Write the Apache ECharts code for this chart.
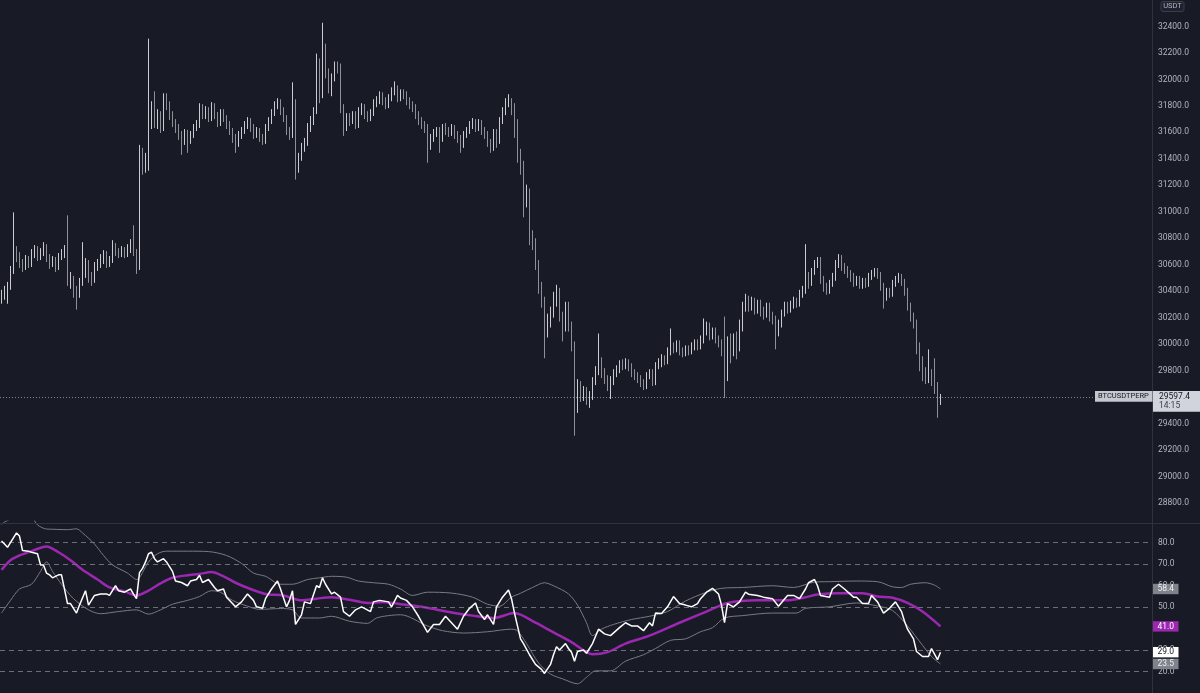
<!DOCTYPE html>
<html><head><meta charset="utf-8">
<script src="https://cdn.jsdelivr.net/npm/echarts@6/dist/echarts.min.js"></script>
<style>html,body{margin:0;padding:0;background:#181b26;overflow:hidden}#c{width:1200px;height:693px}</style>
</head><body><div id="c"></div><script>
// ---- data (BTCUSDTPERP) ----
const symbolName = 'BTCUSDTPERP';
const quoteUnit = 'USDT';
const lastPrice = 29597.4;
const lastTime = '14:15';
const slotCount = 384; // candle slots on the time axis (right part empty)

const opens = [30335,
30358,30395,30433,30560,30695,30658,30605,30583,30635,30605,
30680,30710,30658,30695,30733,30658,30605,30635,30583,30658,
30680,30710,30470,30485,30395,30380,30470,30530,30605,30508,
30485,30583,30605,30635,30680,30605,30635,30733,30695,30680,
30710,30680,30710,30755,30695,30583,31445,31333,31385,31670,
31745,31670,31730,31633,31858,31805,31730,31670,31633,31580,
31535,31595,31535,31580,31633,31655,31783,31730,31760,31708,
31798,31730,31670,31745,31708,31655,31610,31558,31520,31580,
31610,31655,31685,31633,31580,31610,31558,31535,31633,31685,
31745,31805,31820,31760,31708,31610,31580,31820,31370,31408,
31483,31520,31633,31685,31760,32083,31895,32233,32045,31933,
32008,32105,32083,31783,31633,31708,31685,31730,31655,31760,
31783,31730,31708,31745,31820,31835,31880,31835,31805,31858,
31910,31933,31858,31895,31880,31835,31805,31783,31730,31685,
31655,31633,31520,31558,31595,31610,31558,31633,31610,31595,
31625,31580,31550,31505,31580,31610,31655,31670,31633,31670,
31610,31580,31520,31483,31595,31535,31685,31760,31820,31835,
31760,31670,31445,31333,31070,31145,30808,30770,30605,30433,
30320,30095,30170,30230,30320,30395,30208,30133,30283,30133,
29983,29533,29683,29608,29645,29570,29608,29720,29795,29870,
29780,29735,29683,29720,29780,29810,29848,29833,29855,29825,
29780,29758,29735,29705,29683,29758,29780,29720,29833,29855,
29885,29870,29945,29983,29960,29998,29945,29930,29960,29945,
29983,30005,29983,30035,30095,30133,30058,30095,30035,30005,
29945,29758,30020,29945,30035,29983,30133,30283,30335,30283,
30320,30260,30305,30245,30230,30283,30208,30185,30095,30155,
30230,30283,30260,30298,30320,30305,30380,30410,30508,30470,
30545,30605,30635,30485,30433,30410,30455,30508,30605,30658,
30583,30560,30530,30508,30470,30485,30448,30470,30455,30508,
30530,30545,30523,30433,30358,30395,30380,30455,30485,30508,
30470,30395,30283,30208,30155,29983,29870,29780,29735,29780,
29720,29683,29555];

const closes = [
30358,30395,30433,30560,30695,30658,30605,30583,30635,30605,
30680,30710,30658,30695,30733,30658,30605,30635,30583,30658,
30680,30710,30470,30485,30395,30380,30470,30530,30605,30508,
30485,30583,30605,30635,30680,30605,30635,30733,30695,30680,
30710,30680,30710,30755,30695,30583,31445,31333,31385,31670,
31745,31670,31730,31633,31858,31805,31730,31670,31633,31580,
31535,31595,31535,31580,31633,31655,31783,31730,31760,31708,
31798,31730,31670,31745,31708,31655,31610,31558,31520,31580,
31610,31655,31685,31633,31580,31610,31558,31535,31633,31685,
31745,31805,31820,31760,31708,31610,31580,31820,31370,31408,
31483,31520,31633,31685,31760,32083,31895,32233,32045,31933,
32008,32105,32083,31783,31633,31708,31685,31730,31655,31760,
31783,31730,31708,31745,31820,31835,31880,31835,31805,31858,
31910,31933,31858,31895,31880,31835,31805,31783,31730,31685,
31655,31633,31520,31558,31595,31610,31558,31633,31610,31595,
31625,31580,31550,31505,31580,31610,31655,31670,31633,31670,
31610,31580,31520,31483,31595,31535,31685,31760,31820,31835,
31760,31670,31445,31333,31070,31145,30808,30770,30605,30433,
30320,30095,30170,30230,30320,30395,30208,30133,30283,30133,
29983,29533,29683,29608,29645,29570,29608,29720,29795,29870,
29780,29735,29683,29720,29780,29810,29848,29833,29855,29825,
29780,29758,29735,29705,29683,29758,29780,29720,29833,29855,
29885,29870,29945,29983,29960,29998,29945,29930,29960,29945,
29983,30005,29983,30035,30095,30133,30058,30095,30035,30005,
29945,29758,30020,29945,30035,29983,30133,30283,30335,30283,
30320,30260,30305,30245,30230,30283,30208,30185,30095,30155,
30230,30283,30260,30298,30320,30305,30380,30410,30508,30470,
30545,30605,30635,30485,30433,30410,30455,30508,30605,30658,
30583,30560,30530,30508,30470,30485,30448,30470,30455,30508,
30530,30545,30523,30433,30358,30395,30380,30455,30485,30508,
30470,30395,30283,30208,30155,29983,29870,29780,29735,29780,
29720,29683,29555,29597.4];

const highs = [
30410,30440,30470,30590,30995,30740,30695,30643,30673,30665,
30718,30748,30740,30725,30770,30755,30680,30665,30658,30688,
30718,30748,30973,30545,30515,30440,30500,30770,30650,30635,
30545,30620,30643,30680,30710,30703,30665,30785,30763,30725,
30740,30733,30755,30793,30898,30718,31505,31483,31445,32308,
31835,31910,31775,31760,31895,31895,31835,31760,31700,31663,
31610,31625,31618,31610,31663,31693,31820,31813,31798,31790,
31828,31820,31753,31775,31775,31730,31685,31633,31588,31610,
31640,31685,31715,31708,31663,31640,31633,31588,31663,31715,
31775,31835,31858,31850,31790,31730,31640,31978,31850,31445,
31520,31558,31670,31723,31790,32195,32158,32428,32270,32083,
32045,32135,32135,32120,31813,31745,31745,31760,31760,31790,
31820,31813,31760,31775,31850,31873,31910,31903,31865,31888,
31940,31985,31955,31925,31925,31910,31865,31835,31813,31760,
31715,31685,31663,31588,31625,31640,31640,31663,31670,31640,
31663,31655,31610,31580,31610,31640,31685,31708,31700,31700,
31693,31640,31610,31550,31625,31625,31715,31790,31858,31888,
31858,31820,31700,31475,31385,31205,31175,30860,30800,30635,
30470,30358,30230,30283,30395,30448,30425,30245,30320,30320,
30170,30020,29735,29720,29683,29675,29645,29750,29833,30080,
29900,29818,29765,29758,29810,29840,29878,29885,29893,29885,
29855,29810,29788,29765,29735,29788,29810,29810,29863,29893,
29923,29915,29975,30118,30013,30028,30028,29975,29990,29990,
30013,30035,30035,30065,30193,30170,30163,30125,30125,30065,
30035,30208,30058,30080,30080,30095,30185,30320,30380,30365,
30358,30350,30335,30335,30283,30313,30313,30245,30215,30185,
30260,30320,30320,30328,30358,30350,30410,30440,30755,30545,
30575,30635,30658,30658,30515,30463,30485,30538,30635,30680,
30673,30613,30590,30560,30538,30515,30515,30500,30500,30538,
30560,30575,30575,30545,30463,30425,30425,30485,30515,30538,
30530,30493,30425,30313,30238,30185,30013,29908,29825,29960,
29810,29893,29713,29623];

const lows = [
30305,30335,30305,30410,30530,30620,30575,30545,30560,30575,
30583,30650,30628,30635,30665,30620,30568,30583,30545,30560,
30635,30650,30440,30418,30350,30260,30350,30440,30500,30463,
30440,30463,30553,30575,30605,30575,30583,30613,30665,30650,
30658,30650,30658,30688,30665,30530,30560,31280,31295,31310,
31625,31633,31625,31595,31610,31768,31693,31640,31595,31543,
31430,31505,31445,31513,31558,31610,31633,31700,31700,31678,
31685,31700,31640,31648,31678,31625,31580,31520,31445,31490,
31550,31588,31625,31603,31550,31558,31528,31505,31513,31610,
31663,31723,31775,31730,31678,31580,31543,31558,31243,31295,
31385,31453,31498,31603,31655,31738,31820,31858,32008,31895,
31873,31985,32045,31745,31573,31610,31648,31663,31625,31633,
31730,31700,31678,31685,31723,31790,31813,31805,31775,31783,
31835,31880,31828,31835,31850,31805,31775,31753,31700,31655,
31625,31595,31370,31468,31528,31565,31445,31528,31580,31565,
31573,31550,31520,31445,31483,31558,31588,31625,31603,31610,
31580,31550,31490,31445,31460,31483,31513,31663,31730,31790,
31730,31558,31370,31280,30958,31033,30748,30710,30560,30380,
30275,29893,30050,30125,30200,30283,30170,30020,30095,30095,
29945,29308,29480,29563,29570,29540,29518,29578,29690,29765,
29743,29698,29645,29585,29690,29750,29780,29803,29810,29795,
29750,29728,29705,29675,29653,29660,29735,29683,29690,29810,
29825,29840,29848,29915,29930,29938,29915,29900,29908,29915,
29923,29953,29953,29960,30005,30065,30028,30035,30005,29975,
29908,29593,29720,29855,29908,29885,29945,30095,30245,30245,
30253,30223,30230,30208,30185,30200,30170,30148,29960,30058,
30125,30208,30230,30238,30268,30275,30283,30350,30380,30418,
30440,30523,30575,30455,30395,30373,30380,30433,30478,30575,
30553,30530,30500,30470,30433,30440,30418,30418,30425,30433,
30485,30508,30493,30403,30268,30328,30350,30358,30433,30463,
30440,30365,30253,30170,30118,29923,29795,29720,29698,29705,
29683,29623,29443,29540];

// RSI indicator pane: [candle index, value]
const rsiValues = [[0,80.7],[1,79.3],[2,77.8],[5,84.5],[6,83],[7,76.3],[9,76],[10,75.5],[12,74.8],[13,69.6],[14,69.6],[15,65.8],[16,65],[17,63.6],[19,65],[20,65],[22,51.6],[23,51.6],[25,47.2],[26,50.9],[28,57.6],[29,50.9],[31,55.4],[33,56.1],[35,56.1],[36,55.4],[38,59.9],[39,57.6],[41,56.9],[43,58.4],[44,56],[45,53.9],[46,66],[47,68],[48,71],[49,74.8],[50,75.5],[51,72.5],[52,71],[54,72.5],[55,71],[57,66.6],[58,62.1],[60,61.4],[62,59.9],[63,62.1],[65,62.8],[66,64.8],[67,61.4],[69,62.8],[71,59.1],[72,57.6],[74,58.4],[75,54.6],[77,51.6],[78,50.1],[80,52.4],[82,56.1],[84,53.1],[85,50.1],[87,49.4],[88,53.9],[90,58.4],[92,62.1],[93,58.4],[95,50.1],[96,53.1],[97,57.6],[98,41.9],[100,46.4],[101,52.4],[103,51.6],[105,59.9],[106,59.1],[107,63.6],[108,60.6],[110,56.1],[111,56.9],[113,54.6],[114,47.9],[116,45.7],[118,48.7],[120,50.1],[121,49.4],[123,47.9],[124,52.4],[126,53.1],[129,52.4],[130,50.1],[132,55.4],[133,54.2],[135,53.1],[137,50.1],[139,45.7],[142,38.2],[144,41.9],[146,41.9],[148,45.7],[150,42.7],[152,39.7],[154,45.7],[156,49.4],[158,51.9],[159,47.9],[161,44.2],[162,46.4],[164,41.9],[165,50.1],[167,54.6],[169,57.9],[170,53.9],[171,47.2],[173,35.2],[174,33],[176,27.8],[178,23.3],[180,21],[181,19.1],[183,23.3],[184,27.8],[185,31.5],[186,30],[188,33],[189,30.7],[190,29],[191,24.8],[192,29.3],[194,30],[195,28.5],[197,33],[199,39.7],[201,37.5],[203,36.7],[206,40.4],[208,42.7],[210,41.2],[212,41.2],[214,39],[216,42.7],[217,41.2],[218,47.2],[220,47],[222,50.1],[224,54.9],[226,51.6],[228,50.9],[230,50.1],[232,51.6],[233,53.9],[235,56.9],[237,58.7],[239,56.1],[240,50.9],[241,42.7],[242,51.6],[244,50.1],[246,52.4],[248,56.9],[249,56],[252,55.4],[254,54.6],[257,53.9],[259,50.4],[262,55.4],[264,55.4],[266,53.9],[268,58.4],[269,61.3],[271,62.8],[272,59.9],[273,55.4],[276,54.6],[277,58.4],[279,60.6],[281,58.4],[284,54.6],[285,54.6],[287,51.6],[289,51.6],[290,55.4],[292,52.4],[294,47.2],[296,49.4],[298,52.4],[300,47.9],[301,43.4],[302,39.7],[304,35.2],[305,29.3],[307,27],[309,27],[310,30.7],[312,25.5],[313,29.0]];

const rsiMA = [[0,67.3],[3,71.8],[6,74],[10,76],[15,78.2],[19,75.5],[23,71.8],[27,67.3],[32,62.8],[36,59.1],[41,57.3],[45,55.4],[49,57.6],[53,61],[57,63.6],[62,64.8],[66,65.4],[70,66.3],[74,64.3],[78,61.3],[83,58.4],[88,56.1],[94,55.4],[100,53.1],[105,53.9],[110,54.6],[116,53.4],[122,51.9],[127,52.4],[133,51.3],[140,50.1],[150,47.5],[157,46],[164,44.9],[171,47.2],[178,42.7],[184,38.2],[190,33.7],[197,28],[202,29],[208,33],[216,36.7],[226,42.7],[235,47.9],[242,51.9],[252,53.1],[262,53.1],[268,54.6],[272,55.8],[279,56.4],[287,56.4],[292,54.9],[297,54.3],[302,51.9],[307,47.9],[313,41.0]];

const bandUpper = [[0,88.5],[1,89.5],[3,91],[6,93],[10,92],[12,88.2],[15,86.3],[17,86.2],[22,86],[25,86.4],[27,84.5],[31,79.3],[34,74],[37,69.6],[42,65.8],[45,62.8],[49,71],[52,74.8],[55,76],[62,76],[69,75.8],[75,74],[80,70.3],[84,65.8],[88,64.3],[93,60.6],[97,60.6],[102,62.8],[106,63.6],[110,64.3],[115,63.9],[119,62.1],[124,61.3],[129,60.6],[133,58.4],[137,55.4],[142,56.9],[150,56.5],[157,54.6],[162,51.3],[166,50.4],[170,54.6],[173,56.4],[177,59.1],[181,61.3],[184,59.9],[189,56.1],[192,50.9],[195,42.7],[197,36.7],[200,39.7],[204,41.9],[210,44.2],[216,45.7],[222,47.9],[228,52.8],[235,56.9],[240,58.7],[247,59.1],[257,59.9],[264,59.1],[271,61.6],[276,61.8],[285,62.1],[292,61.8],[297,59.4],[300,59.1],[303,60.6],[308,61.3],[311,60.2],[313,58.4]];

const bandLower = [[0,47.2],[3,53.1],[6,58.4],[10,60.6],[13,66.6],[15,71],[17,66.6],[20,60.6],[24,53.9],[29,48.7],[33,46.9],[39,47.9],[45,48.7],[49,46.7],[53,48.7],[57,51.3],[62,53.1],[66,54.9],[70,57.6],[73,56.9],[77,53.1],[82,50.4],[86,48.9],[93,49.3],[97,48.7],[100,44.9],[106,44.9],[110,45.7],[116,43.4],[122,42.4],[125,44.9],[129,46],[133,46.4],[142,41.2],[147,39],[154,37.9],[162,38.5],[170,39.7],[172,38.9],[175,33],[179,24],[183,18.8],[187,16.6],[192,14.3],[195,17.3],[198,20.3],[203,20.3],[208,24.8],[214,27.8],[218,30.7],[223,34.5],[228,35.2],[233,38.5],[237,40.4],[241,44.9],[247,46],[257,47.2],[265,47.2],[268,49.4],[276,50.1],[285,51.9],[292,50.5],[297,48.4],[302,41.2],[307,32.2],[310,27],[313,23.5]];

const rsiLevels = [80, 70, 50, 30, 20];
const priceAxisRange = [28600, 32600];
const rsiAxisRange = [10, 90];

// ---- chart ----
const categories = Array.from({length: slotCount}, (_, i) => String(i));
const candleData = opens.map((o, i) => [o, closes[i], lows[i], highs[i]]);
const BG = '#181b26';
const AXIS_TXT = '#b2b5be';
const FONT = 'Roboto, "Liberation Sans", sans-serif';

const chart = echarts.init(document.getElementById('c'), null, {renderer: 'canvas'});
const yAxisCommon = {
  type: 'value', position: 'right', axisLine: {show: false}, axisTick: {show: false},
  splitLine: {show: false},
  axisLabel: {color: AXIS_TXT, fontSize: 8.5, fontFamily: FONT, margin: 6,
    showMinLabel: false, showMaxLabel: false, formatter: v => v.toFixed(1)}
};
chart.setOption({
  backgroundColor: BG,
  animation: false,
  grid: [
    {left: 0, right: 48, top: -3.97, height: 533.33},
    {left: 0, right: 48, top: 521.07, height: 177.87}
  ],
  xAxis: [
    {type: 'category', gridIndex: 0, data: categories, boundaryGap: true, show: false},
    {type: 'category', gridIndex: 1, data: categories, boundaryGap: true, show: false}
  ],
  yAxis: [
    Object.assign({}, yAxisCommon, {gridIndex: 0, min: priceAxisRange[0], max: priceAxisRange[1], interval: 200}),
    Object.assign({}, yAxisCommon, {gridIndex: 1, min: rsiAxisRange[0], max: rsiAxisRange[1], interval: 10})
  ],
  series: [
    {
      type: 'candlestick', xAxisIndex: 0, yAxisIndex: 0, data: candleData, barWidth: 1,
      itemStyle: {color: '#c9cbd1', color0: '#8d9098', borderColor: '#c9cbd1', borderColor0: '#8d9098', borderWidth: 1},
      markLine: {silent: true, symbol: 'none', label: {show: false},
        lineStyle: {color: '#80838c', type: [1, 2], width: 1},
        data: [{yAxis: lastPrice}]}
    },
    {
      type: 'line', xAxisIndex: 1, yAxisIndex: 1, data: bandUpper, symbol: 'none', smooth: 0.3,
      lineStyle: {color: '#787b86', width: 1}, z: 3
    },
    {
      type: 'line', xAxisIndex: 1, yAxisIndex: 1, data: bandLower, symbol: 'none', smooth: 0.3,
      lineStyle: {color: '#787b86', width: 1}, z: 3,
      markLine: {silent: true, symbol: 'none', label: {show: false},
        lineStyle: {color: '#6b6e78', type: [5, 4], width: 1},
        data: rsiLevels.map(v => ({yAxis: v}))}
    },
    {
      type: 'line', xAxisIndex: 1, yAxisIndex: 1, data: rsiMA, symbol: 'none', smooth: 0.3,
      lineStyle: {color: '#9c27b0', width: 2.5}, z: 4
    },
    {
      type: 'line', xAxisIndex: 1, yAxisIndex: 1, data: rsiValues, symbol: 'none',
      lineStyle: {color: '#ffffff', width: 1.5}, z: 5
    }
  ]
});

// ---- overlays: separators, price tag, indicator value tags ----
const yP = chart.convertToPixel({yAxisIndex: 0}, lastPrice);
const yR = v => chart.convertToPixel({yAxisIndex: 1}, v);
const last = arr => arr[arr.length - 1][1];
const tags = [
  {v: last(bandUpper), bg: '#80838c', fg: '#f0f0f0'},
  {v: last(rsiMA), bg: '#9c27b0', fg: '#ffffff'},
  {v: last(rsiValues), bg: '#ffffff', fg: '#131722'},
  {v: last(bandLower), bg: '#80838c', fg: '#f0f0f0'}
];
const g = [
  {type: 'line', shape: {x1: 1152.5, y1: 0, x2: 1152.5, y2: 693}, style: {stroke: '#2f333e', lineWidth: 1}, z: 10},
  {type: 'line', shape: {x1: 0, y1: 523.5, x2: 1200, y2: 523.5}, style: {stroke: '#2f333e', lineWidth: 1}, z: 10},
  {type: 'rect', shape: {x: 1161, y: 1.5, width: 23, height: 10, r: 2}, style: {fill: '#1e2230', stroke: '#3a3e4a', lineWidth: 1}, z: 10},
  {type: 'text', x: 1172.5, y: 6.5, style: {text: quoteUnit, fill: AXIS_TXT, font: '7.5px ' + FONT, textAlign: 'center', textVerticalAlign: 'middle'}, z: 11},
  {type: 'rect', shape: {x: 1095, y: yP - 6.4, width: 57.5, height: 10.7}, style: {fill: '#c5c8cf'}, z: 10},
  {type: 'text', x: 1098, y: yP - 1, style: {text: symbolName, fill: '#131722', font: '7.5px ' + FONT, textVerticalAlign: 'middle'}, z: 11},
  {type: 'rect', shape: {x: 1153, y: yP - 6.4, width: 47, height: 20.7}, style: {fill: '#d1d4dc'}, z: 10},
  {type: 'text', x: 1159, y: yP - 0.5, style: {text: lastPrice.toFixed(1), fill: '#131722', font: '8.5px ' + FONT, textVerticalAlign: 'middle'}, z: 11},
  {type: 'text', x: 1159, y: yP + 8.8, style: {text: lastTime, fill: '#3a3e4a', font: '8.5px ' + FONT, textVerticalAlign: 'middle'}, z: 11}
];
tags.forEach(t => {
  const y = yR(t.v);
  g.push({type: 'rect', shape: {x: 1153, y: y - 5.2, width: 25.5, height: 10.4}, style: {fill: t.bg}, z: 12});
  g.push({type: 'text', x: 1165.7, y: y, style: {text: t.v.toFixed(1), fill: t.fg, font: '8.5px ' + FONT, textAlign: 'center', textVerticalAlign: 'middle'}, z: 13});
});
chart.setOption({graphic: g});
</script></body></html>
